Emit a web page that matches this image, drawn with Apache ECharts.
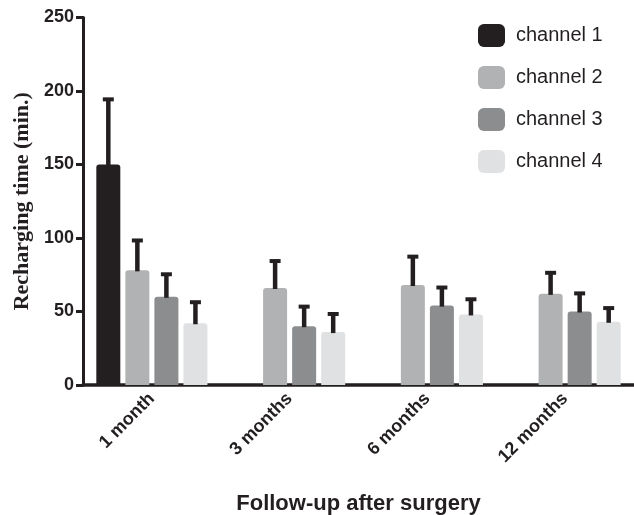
<!DOCTYPE html>
<html>
<head>
<meta charset="utf-8">
<script src="https://cdn.jsdelivr.net/npm/echarts@6/dist/echarts.min.js"></script>
<style>
  html, body { margin: 0; padding: 0; background: #fff; }
  #chart { width: 634px; height: 515px; }
</style>
</head>
<body>
<div id="chart"></div>
<script>
// Follow-up time points
const categories = ['1 month', '3 months', '6 months', '12 months'];
const seriesNames = ['channel 1', 'channel 2', 'channel 3', 'channel 4'];

// Mean recharging time (min.) per channel; '-' = not measured
const channel1Mean = [150, '-', '-', '-'];
const channel2Mean = [78, 66, 68, 62];
const channel3Mean = [60, 40, 54, 50];
const channel4Mean = [42, 36, 48, 43];

// Upper end of the error bar (mean + SD)
const channel1Upper = [195, '-', '-', '-'];
const channel2Upper = [99, 85, 88, 77];
const channel3Upper = [76, 54, 67, 63];
const channel4Upper = [57, 49, 59, 53];

const yTicks = [0, 50, 100, 150, 200, 250];

const means = [channel1Mean, channel2Mean, channel3Mean, channel4Mean];
const uppers = [channel1Upper, channel2Upper, channel3Upper, channel4Upper];
const colors = ['#231f20', '#b1b2b4', '#8c8d8f', '#e0e1e2'];
const ink = '#231f20';
const sans = 'Liberation Sans, Arial, Helvetica, sans-serif';

const BAR_W = 24;
const GAP_RATIO = 0.21;
const GAP = BAR_W * GAP_RATIO;
const total = means.length * BAR_W + (means.length - 1) * GAP;

// horizontal offset of series i's bar centre within its category band
function barOffset(i) {
  return -total / 2 + BAR_W / 2 + i * (BAR_W + GAP);
}

const barSeries = means.map((m, i) => ({
  name: seriesNames[i],
  type: 'bar',
  data: m,
  barWidth: BAR_W,
  barGap: (GAP_RATIO * 100) + '%',
  itemStyle: { color: colors[i], borderRadius: [3, 3, 0, 0] },
  z: 2
}));

// upper-only error bars: a stem from the bar top with a flat cap
const errorSeries = means.map((m, i) => ({
  type: 'custom',
  z: 3,
  silent: true,
  data: m.map((v, k) => [k, v, uppers[i][k]]).filter(d => d[1] !== '-'),
  renderItem: function (params, api) {
    const base = api.coord([api.value(0), api.value(1)]);
    const top = api.coord([api.value(0), api.value(2)]);
    const x = base[0] + barOffset(i);
    const stemW = 4.5, capW = 11, capH = 4;
    return {
      type: 'group',
      children: [
        { type: 'rect', shape: { x: x - stemW / 2, y: top[1], width: stemW, height: base[1] - top[1] + 1 }, style: { fill: ink } },
        { type: 'rect', shape: { x: x - capW / 2, y: top[1] - 1, width: capW, height: capH }, style: { fill: ink } }
      ]
    };
  }
}));

const chart = echarts.init(document.getElementById('chart'), null, { renderer: 'canvas' });
chart.setOption({
  animation: false,
  backgroundColor: '#fff',
  grid: { left: 83, right: 0, top: 17.5, bottom: 130, containLabel: false, outerBoundsMode: 'none' },
  legend: {
    data: seriesNames,
    orient: 'vertical',
    left: 478,
    top: 24,
    padding: 0,
    itemWidth: 27,
    itemHeight: 23,
    itemGap: 19,
    icon: 'roundRect',
    textStyle: { fontFamily: sans, fontSize: 20, color: ink, padding: [0, 0, 0, 6] }
  },
  xAxis: {
    type: 'category',
    data: categories,
    axisLine: { lineStyle: { color: ink, width: 3.5 } },
    axisTick: { alignWithLabel: true, length: 6, lineStyle: { color: ink, width: 3 } },
    axisLabel: {
      rotate: 45,
      margin: 11,
      fontFamily: sans,
      fontWeight: 'bold',
      fontSize: 18,
      color: ink
    },
    name: 'Follow-up after surgery',
    nameLocation: 'middle',
    nameGap: 108,
    nameTextStyle: { fontFamily: sans, fontWeight: 'bold', fontSize: 22, color: ink }
  },
  yAxis: {
    type: 'value',
    min: yTicks[0],
    max: yTicks[yTicks.length - 1],
    interval: yTicks[1] - yTicks[0],
    splitLine: { show: false },
    axisLine: { show: true, lineStyle: { color: ink, width: 3 } },
    axisTick: { show: true, length: 7, lineStyle: { color: ink, width: 3 } },
    axisLabel: {
      margin: 9,
      fontFamily: sans,
      fontWeight: 'bold',
      fontSize: 18,
      color: ink
    },
    name: 'Recharging time (min.)',
    nameLocation: 'middle',
    nameGap: 47,
    nameTextStyle: { fontFamily: 'Liberation Serif, Times New Roman, serif', fontWeight: 'bold', fontSize: 22, color: ink }
  },
  series: barSeries.concat(errorSeries)
});
</script>
</body>
</html>
